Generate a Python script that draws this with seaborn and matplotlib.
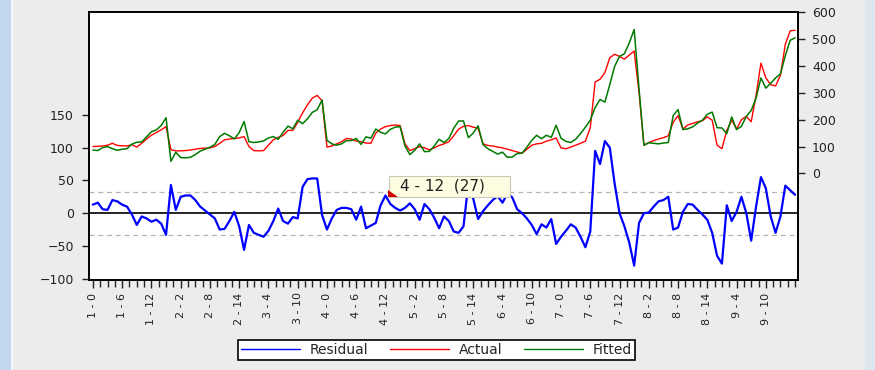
import numpy as np
import pandas as pd
import matplotlib
matplotlib.use("Agg")
import matplotlib.pyplot as plt
import seaborn as sns
from matplotlib.lines import Line2D
from matplotlib.patches import Rectangle, Polygon

actual = [100, 101, 102, 105, 112, 104, 103, 102, 107, 98, 112, 128, 142, 152, 162, 174,
          88, 84, 84, 85, 87, 90, 93, 94, 95, 100, 112, 125, 128, 130, 132, 137,
          100, 85, 84, 85, 105, 125, 134, 141, 160, 160, 190, 225, 255, 280, 290, 270,
          98, 102, 110, 118, 130, 128, 120, 118, 113, 112, 150, 165, 174, 178, 180, 178,
          110, 85, 92, 100, 95, 88, 95, 104, 110, 118, 140, 165, 175, 178, 172, 168,
          110, 104, 102, 98, 95, 90, 85, 80, 75, 90, 105, 110, 112, 120, 125, 132,
          95, 92, 98, 105, 112, 120, 170, 340, 350, 375, 430, 443, 435, 425, 440, 455,
          300, 105, 115, 122, 128, 133, 140, 190, 215, 165, 180, 186, 192, 196, 210, 198,
          105, 92, 160, 198, 165, 200, 212, 192, 290, 410, 355, 330, 325, 365, 480, 530, 532]

fitted = [87, 85, 96, 100, 92, 86, 90, 92, 109, 116, 117, 136, 155, 162, 178, 207,
          45, 79, 59, 58, 60, 70, 83, 90, 97, 108, 137, 149, 140, 128, 152, 193,
          118, 115, 117, 121, 132, 137, 127, 153, 176, 166, 198, 185, 203, 227, 237, 273,
          123, 110, 105, 110, 122, 122, 130, 108, 136, 131, 165, 153, 147, 164, 172, 174,
          102, 70, 86, 110, 81, 82, 102, 127, 115, 130, 168, 195, 195, 133, 150, 177,
          107, 92, 82, 72, 79, 60, 61, 74, 75, 98, 123, 142, 129, 142, 134, 179,
          131, 119, 115, 127, 148, 172, 198, 245, 275, 265, 330, 398, 435, 445, 485, 535,
          315, 105, 114, 112, 110, 113, 115, 215, 237, 163, 166, 173, 187, 198, 220, 228,
          170, 169, 148, 210, 163, 175, 212, 234, 280, 355, 317, 335, 355, 370, 438, 495, 504]

residual = [13, 16, 6, 5, 20, 18, 13, 10, -2, -18, -5, -8, -13, -10, -16, -33,
            43, 5, 25, 27, 27, 20, 10, 4, -2, -8, -25, -24, -12, 2, -20, -56,
            -18, -30, -33, -36, -27, -12, 7, -12, -16, -6, -8, 40, 52, 53, 53, -3,
            -25, -8, 5, 8, 8, 6, -10, 10, -23, -19, -15, 12, 27, 14, 8, 4,
            8, 15, 6, -10, 14, 6, -7, -23, -5, -12, -28, -30, -20, 45, 22, -9,
            3, 12, 20, 26, 16, 30, 24, 6, 0, -8, -18, -32, -17, -22, -9, -47,
            -36, -27, -17, -22, -36, -52, -28, 95, 75, 110, 100, 45, 0, -20, -45, -80,
            -15, 0, 1, 10, 18, 20, 25, -25, -22, 2, 14, 13, 5, -2, -10, -30,
            -65, -77, 12, -12, 2, 25, 0, -42, 10, 55, 38, -5, -30, -5, 42, 35, 28]

tick_labels = ["1 - 0", "1 - 6", "1 - 12", "2 - 2", "2 - 8", "2 - 14", "3 - 4", "3 - 10",
               "4 - 0", "4 - 6", "4 - 12", "5 - 2", "5 - 8", "5 - 14", "6 - 4", "6 - 10",
               "7 - 0", "7 - 6", "7 - 12", "8 - 2", "8 - 8", "8 - 14", "9 - 4", "9 - 10"]
resid_band = 33

df = pd.DataFrame({"obs": np.arange(len(actual)), "Actual": actual,
                   "Fitted": fitted, "Residual": residual})

sns.set_style("ticks")
plt.rcParams["font.family"] = ["DejaVu Sans"]

W, H = 875, 370
fig = plt.figure(figsize=(W / 100, H / 100), dpi=100, facecolor="#ececec")

# window chrome strips
fig.patches.append(Rectangle((0, 0), 11 / W, 1, transform=fig.transFigure,
                             facecolor="#c3d7ec", edgecolor="none", zorder=-5))
fig.patches.append(Rectangle((11 / W, 0), 2 / W, 1, transform=fig.transFigure,
                             facecolor="#f4f7fb", edgecolor="none", zorder=-5))
fig.patches.append(Rectangle((865 / W, 0), 10 / W, 1, transform=fig.transFigure,
                             facecolor="#dfe7f0", edgecolor="none", zorder=-5))

ax = fig.add_axes([89 / W, 1 - 280 / H, (798 - 89) / W, (280 - 12) / H])
ax.set_facecolor("white")
ax2 = ax.twinx()

# residual on the left scale
ax.axhline(0, color="black", lw=1.2, zorder=1)
ax.axhline(resid_band, color="#b4b4b4", lw=0.9, ls=(0, (4, 3)), zorder=1)
ax.axhline(-resid_band, color="#b4b4b4", lw=0.9, ls=(0, (4, 3)), zorder=1)
sns.lineplot(data=df, x="obs", y="Residual", ax=ax, color="#0000ff", lw=1.6, zorder=2)

# actual and fitted on the right scale
sns.lineplot(data=df, x="obs", y="Actual", ax=ax2, color="#ff0000", lw=1.0)
sns.lineplot(data=df, x="obs", y="Fitted", ax=ax2, color="#007a00", lw=1.1)

ax.set_xlim(-0.8, 144.6)
ax.set_ylim(-102, 307)
ax2.set_ylim(-396, 600)
ax.set_yticks([-100, -50, 0, 50, 100, 150])
ax2.set_yticks([0, 100, 200, 300, 400, 500, 600])
ax.set_xticks(np.arange(0, 6 * len(tick_labels), 6))
ax.set_xticklabels(tick_labels, rotation=90)
ax.set_xticks(np.arange(0, 145, 1.5), minor=True)
for a in (ax, ax2):
    a.set_xlabel("")
    a.set_ylabel("")
    for s in a.spines.values():
        s.set_visible(True)
        s.set_color("black")
        s.set_linewidth(1.2)

ax.tick_params(axis="y", length=5, width=1, pad=6, labelsize=9, colors="#222222")
ax2.tick_params(axis="y", length=5, width=1, pad=5, labelsize=9, colors="#222222")
ax.tick_params(axis="x", which="major", length=6, width=1, pad=3, labelsize=8, colors="#222222")
ax.tick_params(axis="x", which="minor", length=5, width=1)

# legend box
handles = [Line2D([], [], color="#0000ff", lw=1),
           Line2D([], [], color="#ff0000", lw=1),
           Line2D([], [], color="#007a00", lw=1)]
leg = fig.legend(handles, ["Residual", "Actual", "Fitted"], loc="center",
                 bbox_to_anchor=(436.5 / W, 1 - 350 / H), ncol=3, frameon=True,
                 fancybox=False, edgecolor="black", framealpha=1, fontsize=10,
                 handlelength=4.2, columnspacing=1.6, handletextpad=0.7,
                 borderpad=0.25)
leg.get_frame().set_linewidth(1.2)

# hover tooltip at 4 - 12
fig.patches.append(Rectangle((389 / W, 1 - 197 / H), 121 / W, 21 / H,
                             transform=fig.transFigure, facecolor="#fdfbe0",
                             edgecolor="#c8c8b8", lw=0.8, zorder=10))
fig.patches.append(Polygon([(388 / W, 1 - 190 / H), (388 / W, 1 - 197 / H),
                            (398 / W, 1 - 197 / H)], closed=True,
                           transform=fig.transFigure, facecolor="#d00000",
                           edgecolor="none", zorder=11))
fig.text(400 / W, 1 - 186.5 / H, "4 - 12  (27)", fontsize=11, va="center",
         ha="left", color="#222222", zorder=12)

fig.savefig("out.png", dpi=100, facecolor=fig.get_facecolor())
